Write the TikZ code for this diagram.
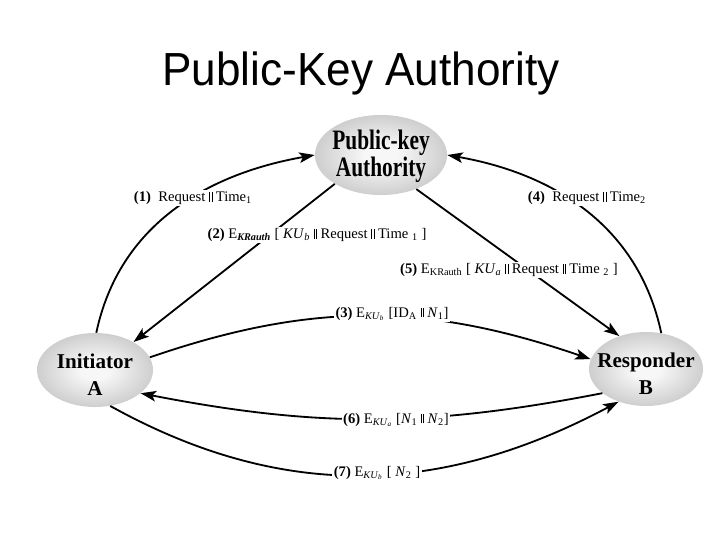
\documentclass[tikz,border=0pt]{standalone}
\usepackage{fontspec}
\setmainfont{Liberation Serif}
\newfontfamily\titlefont[FakeStretch=0.95]{Liberation Sans}
\newfontfamily\pkafont[FakeStretch=0.76]{Liberation Serif}
\usetikzlibrary{shapes.geometric,arrows.meta}
\definecolor{shcA}{gray}{0.97}
\definecolor{shcB}{gray}{0.80}
\definecolor{shcC}{gray}{0.50}
\pgfdeclareradialshading{greyball}{\pgfpoint{0bp}{0bp}}{color(0bp)=(shcA); color(6bp)=(shcA); color(26bp)=(shcB); color(50bp)=(shcC); color(70bp)=(shcC)}
\newcommand{\dbar}{\rule{0.45pt}{6.5pt}\kern1.3pt\rule{0.45pt}{6.5pt}}
\begin{document}
\begin{tikzpicture}[x=0.025cm,y=0.025cm,
  ball/.style={ellipse, shading=greyball, draw=none, inner sep=0pt},
  party/.style={font=\fontsize{15}{19}\selectfont\bfseries, align=center, inner sep=0pt},
  pkatext/.style={font=\pkafont\fontsize{20}{15}\selectfont\bfseries, align=center, inner sep=0pt},
  msg/.style={font=\fontsize{10.4}{12}\selectfont, fill=white, inner sep=1pt},
  conn/.style={line width=1.3pt, -{Stealth[length=11pt,width=7.5pt,inset=2.5pt]}}]
\useasboundingbox (0,0) rectangle (720,540);

\node[font=\titlefont\fontsize{33}{40}\selectfont, anchor=base] (title) at (361,454) {Public-Key Authority};

\node[ball, minimum width=3.3cm, minimum height=2cm] (PKA) at (381,385) {};
\node[pkatext] (PKAt) at (381,383.5) {Public-key\\Authority};
\node[ball, minimum width=2.9cm, minimum height=1.85cm] (A) at (95,170) {};
\node[party] (At) at (95,165) {Initiator\\A};
\node[ball, minimum width=2.85cm, minimum height=1.85cm] (B) at (646,171) {};
\node[party] (Bt) at (646,166) {Responder\\B};

\draw[conn] (A.88) to[out=78,in=190] (PKA.180);
\draw[conn] (PKA.212) -- (A.36);
\draw[conn] (A.13) to[out=19,in=161] (B.170);
\draw[conn] (B.67) to[out=102,in=-10] (PKA.0);
\draw[conn] (PKA.-44) -- (B.129);
\draw[conn] (B.209) to[out=191,in=-11] (A.-27);
\draw[conn] (A.-67) to[out=-29,in=208] (B.230);

\node[msg] (m1) at (193,342) {\textbf{(1)}\ \ Request \dbar{} Time\textsubscript{1}};
\node[msg] (m2) at (317,305) {\textbf{(2)} E\textsubscript{\textbf{\textit{KRauth}}} [ \textit{KU}\textsubscript{\textit{b}} \dbar{} Request \dbar{} Time \textsubscript{1} ]};
\node[msg] (m4) at (587,342) {\textbf{(4)}\ \ Request \dbar{} Time\textsubscript{2}};
\node[msg] (m5) at (509,270) {\textbf{(5)} E\textsubscript{KRauth} [ \textit{KU}\textsubscript{\textit{a}} \dbar{} Request \dbar{} Time \textsubscript{2} ]};
\node[msg] (m3) at (392,226) {\textbf{(3)} E\textsubscript{\textit{KU}\textsubscript{\textit{b}}} [ID\textsubscript{A} \dbar{} \textit{N}\textsubscript{1}]};
\node[msg] (m6) at (396,120) {\textbf{(6)} E\textsubscript{\textit{KU}\textsubscript{\textit{a}}} [\textit{N}\textsubscript{1} \dbar{} \textit{N}\textsubscript{2}]};
\node[msg] (m7) at (377,67) {\textbf{(7)} E\textsubscript{\textit{KU}\textsubscript{\textit{b}}} [ \textit{N}\textsubscript{2} ]};
\end{tikzpicture}
\end{document}
